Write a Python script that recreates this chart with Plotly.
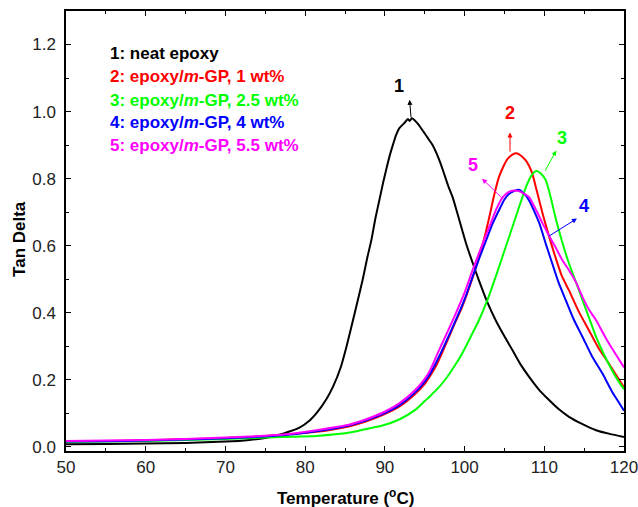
import plotly.graph_objects as go

# ---- data ----
t_neat = [50, 55, 60, 65, 70, 73, 75, 77, 78, 79.3, 80.6, 81.4, 82.6, 83.5, 84.5, 85.2, 86.0, 86.6, 87.2,
          87.8, 88.3, 88.8, 89.3, 89.8, 90.2, 90.6, 91.0, 91.4, 91.8, 92.4, 92.9, 93.1, 93.4, 93.7, 94.2,
          94.7, 95.2, 95.6, 96.0, 96.5, 97.0, 97.5, 98.0, 98.5, 99.0, 99.6, 100.2, 101.0, 101.8, 102.8, 103.9,
          105.0, 106.0, 107.0, 108.1, 109.3, 110.6, 111.8, 113.1, 114.8, 116.5, 118.2, 120]
v_neat = [0.008, 0.009, 0.010, 0.012, 0.016, 0.021, 0.027, 0.038, 0.046, 0.058, 0.080, 0.100, 0.140, 0.180,
          0.240, 0.300, 0.378, 0.437, 0.497, 0.565, 0.616, 0.680, 0.735, 0.790, 0.830, 0.868, 0.900, 0.930,
          0.950, 0.965, 0.978, 0.972, 0.980, 0.975, 0.962, 0.945, 0.928, 0.914, 0.900, 0.875, 0.845, 0.810,
          0.775, 0.745, 0.705, 0.655, 0.606, 0.550, 0.497, 0.435, 0.378, 0.330, 0.289, 0.247, 0.209, 0.172,
          0.140, 0.113, 0.090, 0.068, 0.050, 0.039, 0.030]

t_1wt = [50, 55, 60, 65, 70, 73, 77, 81.4, 85.6, 87.5, 89.7, 91.8, 93.9, 95.0, 95.6, 96.5, 97.7, 98.7, 99.7,
         100.8, 101.8, 102.5, 103.1, 103.7, 104.3, 104.9, 105.4, 106.0, 106.5, 107.0, 107.7, 108.1, 108.5,
         109.1, 109.8, 110.6, 111.4, 112.2, 113.1, 114.3, 115.6, 116.8, 118.1, 119.0, 120]
v_1wt = [0.017, 0.018, 0.020, 0.023, 0.027, 0.030, 0.036, 0.045, 0.062, 0.075, 0.095, 0.120, 0.160, 0.188,
         0.209, 0.245, 0.309, 0.365, 0.418, 0.490, 0.566, 0.625, 0.685, 0.750, 0.804, 0.838, 0.859, 0.872,
         0.876, 0.870, 0.854, 0.838, 0.815, 0.760, 0.695, 0.628, 0.566, 0.510, 0.467, 0.405, 0.348, 0.295,
         0.249, 0.215, 0.178]

t_25wt = [50, 55, 60, 65, 70, 73, 77.2, 81.4, 85.6, 87.5, 89.7, 91.8, 93.9, 95.0, 95.6, 96.7, 97.7, 98.7,
          99.7, 100.8, 101.8, 102.9, 103.9, 105.0, 106.0, 106.9, 107.7, 108.4, 109.0, 109.6, 110.2, 110.8,
          111.4, 112.2, 113.1, 114.0, 114.8, 115.7, 116.5, 117.5, 118.5, 119.2, 120]
v_25wt = [0.015, 0.016, 0.018, 0.021, 0.024, 0.026, 0.030, 0.033, 0.043, 0.053, 0.064, 0.082, 0.112, 0.137,
          0.150, 0.176, 0.205, 0.240, 0.279, 0.330, 0.378, 0.440, 0.507, 0.585, 0.656, 0.720, 0.775, 0.810,
          0.823, 0.815, 0.795, 0.745, 0.685, 0.615, 0.547, 0.490, 0.4375, 0.380, 0.328, 0.275, 0.229, 0.200,
          0.172]

t_4wt = [50, 55, 60, 65, 70, 73, 77.2, 81.4, 85.6, 87.5, 89.7, 91.8, 93.9, 95.0, 95.6, 96.8, 97.8, 98.9,
         100.0, 101.0, 101.8, 102.7, 103.5, 104.3, 105.0, 105.6, 106.2, 106.8, 107.4, 108.1, 108.7, 109.4,
         110.2, 111.0, 111.8, 112.7, 113.7, 114.8, 116.0, 117.3, 118.5, 119.3, 120]
v_4wt = [0.016, 0.017, 0.019, 0.022, 0.026, 0.029, 0.035, 0.047, 0.065, 0.078, 0.098, 0.124, 0.165, 0.195,
         0.215, 0.269, 0.320, 0.378, 0.440, 0.507, 0.560, 0.616, 0.665, 0.705, 0.738, 0.755, 0.763, 0.767,
         0.757, 0.735, 0.705, 0.666, 0.605, 0.547, 0.490, 0.4375, 0.380, 0.328, 0.270, 0.219, 0.165, 0.135,
         0.108]

t_55wt = [50, 55, 60, 65, 70, 73, 77.2, 81.4, 85.6, 87.5, 89.7, 91.8, 93.9, 95.0, 95.6, 96.8, 97.8, 98.9,
          100.0, 101.0, 102.0, 103.1, 104.0, 104.8, 105.5, 106.2, 106.8, 107.5, 108.1, 109.0, 109.8, 110.6,
          111.4, 112.2, 113.1, 114.0, 114.8, 115.6, 116.5, 117.3, 118.1, 119.0, 120]
v_55wt = [0.018, 0.019, 0.021, 0.024, 0.028, 0.031, 0.037, 0.050, 0.067, 0.081, 0.102, 0.130, 0.172, 0.203,
          0.225, 0.289, 0.340, 0.398, 0.460, 0.527, 0.590, 0.656, 0.710, 0.745, 0.760, 0.765, 0.763, 0.755,
          0.745, 0.705, 0.666, 0.630, 0.596, 0.560, 0.527, 0.490, 0.447, 0.410, 0.378, 0.343, 0.309, 0.275,
          0.237]

series = [
    ("1", t_neat, v_neat, "#000000", "neat epoxy"),
    ("2", t_1wt, v_1wt, "#ff0000", "epoxy/<i>m</i>-GP, 1 wt%"),
    ("3", t_25wt, v_25wt, "#00ff00", "epoxy/<i>m</i>-GP, 2.5 wt%"),
    ("4", t_4wt, v_4wt, "#0000ff", "epoxy/<i>m</i>-GP, 4 wt%"),
    ("5", t_55wt, v_55wt, "#ff00ff", "epoxy/<i>m</i>-GP, 5.5 wt%"),
]

# label positions (text) and arrow (head, tail) in data coordinates
label_text_pos = [(91.8, 1.075), (105.7, 0.995), (112.2, 0.92), (115.0, 0.72), (101.1, 0.842)]
arrow_head = [(93.1, 1.035), (105.7, 0.938), (111.5, 0.884), (114.1, 0.681), (102.2, 0.800)]
arrow_tail = [(93.3, 0.978), (105.7, 0.876), (110.0, 0.819), (110.4, 0.626), (104.8, 0.740)]

FONT = "Liberation Sans, Arial, sans-serif"

fig = go.Figure()
for name, t, v, col, lab in series:
    fig.add_trace(go.Scatter(x=t, y=v, mode="lines",
                             line=dict(color=col, width=2, shape="spline", smoothing=0.6),
                             name=f"{name}: {lab}", showlegend=False, hoverinfo="skip"))

annotations = []
legend_y = [0.904, 0.852, 0.797, 0.747, 0.695]
for (name, t, v, col, lab), ly in zip(series, legend_y):
    annotations.append(dict(xref="paper", yref="paper", x=0.075, y=ly, xanchor="left", yanchor="middle",
                            text=f"<b>{name}: {lab}</b>", showarrow=False,
                            font=dict(family=FONT, size=17, color=col)))

for (name, t, v, col, lab), tp, hd, tl in zip(series, label_text_pos, arrow_head, arrow_tail):
    annotations.append(dict(x=tp[0], y=tp[1], xref="x", yref="y", text=f"<b>{name}</b>", showarrow=False,
                            font=dict(family=FONT, size=18, color=col)))
    annotations.append(dict(x=hd[0], y=hd[1], ax=tl[0], ay=tl[1], xref="x", yref="y", axref="x", ayref="y",
                            text="", showarrow=True, arrowhead=2, arrowsize=1, arrowwidth=1, arrowcolor=col))

annotations.append(dict(xref="paper", yref="paper", x=-0.0824, y=0.482, xanchor="center", yanchor="middle",
                        text="<b>Tan Delta</b>", textangle=-90, showarrow=False,
                        font=dict(family=FONT, size=17, color="black")))
annotations.append(dict(xref="paper", yref="paper", x=0.500, y=-0.104, xanchor="center", yanchor="middle",
                        text="<b>Temperature (<sup>o</sup>C)</b>", showarrow=False,
                        font=dict(family=FONT, size=17, color="black")))

axis_common = dict(showline=True, linecolor="black", linewidth=1.5, mirror="ticks", ticks="inside",
                   ticklen=5, tickwidth=1.2, tickcolor="black", showgrid=False, zeroline=False,
                   ticklabeloverflow="allow", automargin=False,
                   tickfont=dict(family=FONT, size=17, color="#222"))

fig.update_layout(
    width=638, height=507,
    margin=dict(l=66, r=14, t=11, b=56),
    paper_bgcolor="white", plot_bgcolor="white",
    xaxis=dict(range=[49.999, 120.001], dtick=10, tick0=50,
               minor=dict(dtick=5, ticks="inside", ticklen=3, tickcolor="black"), **axis_common),
    yaxis=dict(range=[-0.012, 1.3], dtick=0.2, tick0=0, tickformat=".1f", ticklabelstandoff=5,
               minor=dict(dtick=0.1, ticks="inside", ticklen=3, tickcolor="black"), **axis_common),
    annotations=annotations,
)

fig.write_html("out.html")
